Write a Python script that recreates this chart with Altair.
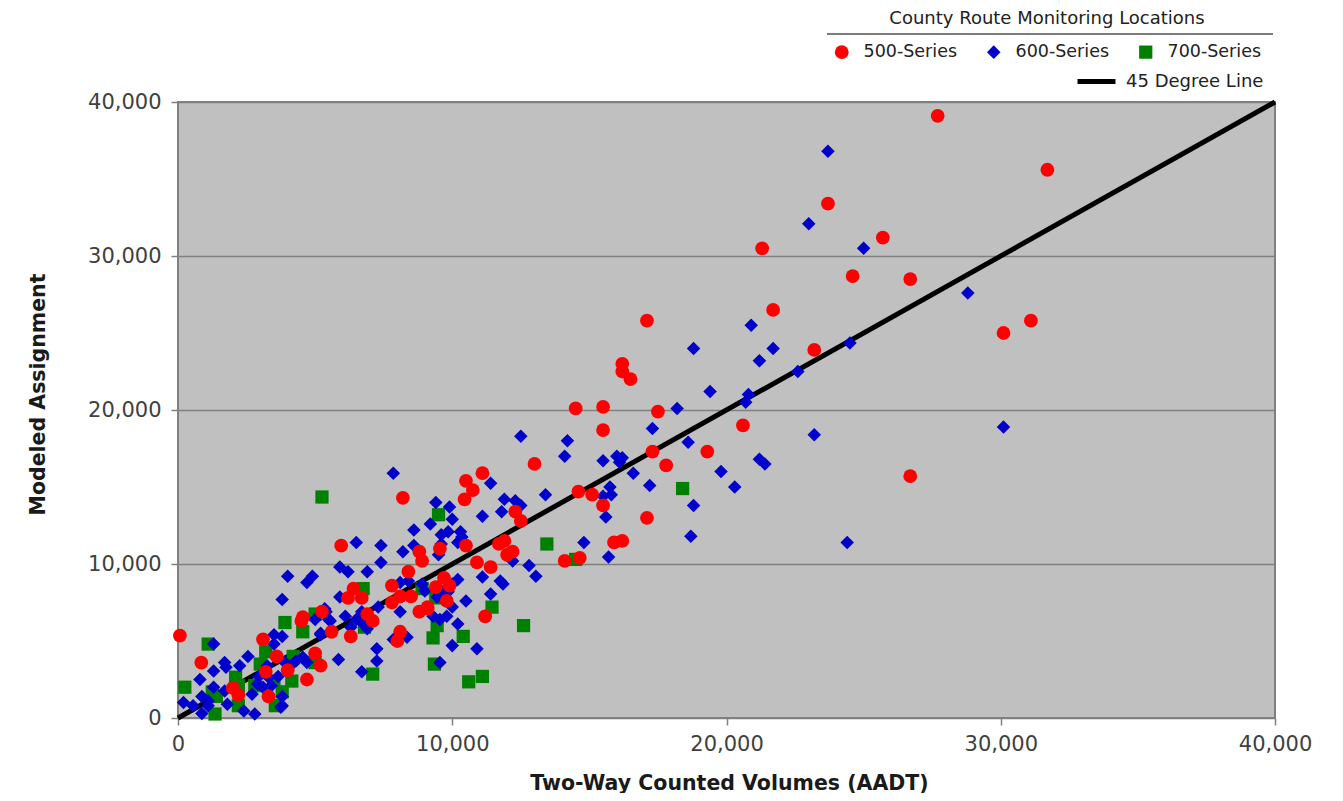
import altair as alt
import pandas as pd

# ---- data ----
red_x = [70, 850, 2000, 2200, 3100, 3600, 3200, 4000, 4700, 5000, 5200, 4500, 4550, 5250, 3300,
         5950, 8900, 8400, 7800, 6400, 6200, 6700, 5600, 6300, 6900, 7100, 7800, 8100, 8500, 8100,
         8000, 8800, 9100, 9400, 9700, 9900, 9800, 12500, 11900, 11700, 12000, 12200, 10500, 9550,
         8800, 10900, 11400, 9100, 11200, 8200, 10500, 10750, 10450, 11100, 13000, 12300, 16500,
         14500, 15500, 17500, 15500, 17300, 17800, 19300, 14600, 15100, 15500, 17100, 15900, 16200,
         14100, 14650, 20600, 21300, 17100, 16200, 16200, 21700, 23200, 27700, 23700, 31700, 25700,
         24600, 26700, 30100, 31100, 26700]
red_y = [5350, 3600, 1950, 1500, 5100, 4000, 3000, 3100, 2500, 4200, 3400, 6300, 6550, 6900, 1400,
         11200, 10200, 9500, 8600, 8400, 7800, 7800, 5600, 5300, 6750, 6300, 7500, 7900, 7900, 5600,
         5000, 6900, 7100, 8500, 9100, 8600, 7600, 12800, 11500, 11300, 10600, 10800, 11200, 11000,
         10800, 10100, 9800, 7200, 6600, 14300, 15400, 14800, 14200, 15900, 16500, 13400, 22000,
         20100, 20200, 19900, 18700, 17300, 16400, 17300, 14700, 14500, 13800, 13000, 11400, 11500,
         10200, 10400, 19000, 30500, 25800, 23000, 22500, 26500, 23900, 39100, 33400, 35600, 31200,
         28700, 28500, 25000, 25800, 15700]

blue_x = [4000, 4900, 4700, 3800, 1300, 3500, 3800, 3500, 5200, 1700, 1750, 1300, 2250, 2550, 800,
          1300, 1700, 200, 550, 870, 1100, 1100, 870, 1800, 2400, 2800, 2700, 2950, 2900, 3300, 3400,
          3650, 3900, 4100, 3800, 3800, 3750, 3100, 4300, 4700, 4550, 3250, 5000,
          5900, 6200, 6900, 7400, 8100, 8400, 8900, 9000, 9450, 9600, 9450, 9850, 10000, 10200, 10500,
          5900, 6100, 5550, 5400, 6500, 6750, 6900, 7300, 8100, 6300, 5200, 7850, 8350, 9300, 9550,
          9800, 10000, 10200, 10000, 7250, 7250, 5850, 6700, 9550,
          8600, 9200, 9600, 9850, 10300, 10350, 7400, 8200, 8600, 9500, 9600, 10200, 11750, 11850,
          11400, 11100, 12800, 13050, 12200, 10900,
          7850, 12500, 11400, 13400, 9400, 9900, 10000, 11100, 11800, 11900, 12300, 12500,
          19400, 18200, 14200, 14100, 15500, 16000, 16200, 16100, 17300, 18600, 16600, 15750, 15500,
          15800, 17200, 15600, 18800, 19800, 20300, 18700, 14800, 15700,
          20900, 18800, 21700, 21200, 22600, 20800, 28800, 24500, 23200, 30100, 24400, 23700, 23000,
          25000, 21200, 21400, 20700, 6500, 6700, 5350, 5500]
blue_y = [9200, 9200, 8800, 7700, 4800, 5400, 5300, 4800, 5400, 3600, 3300, 3050, 3400, 4000, 2500,
          2000, 1750, 1000, 800, 1400, 1100, 800, 300, 900, 450, 260, 1550, 2700, 2200, 2650, 2100,
          2700, 3600, 3400, 1400, 800, 700, 2000, 3700, 3600, 3950, 3400, 6400,
          9800, 9500, 9500, 10100, 8800, 8900, 8700, 8250, 7850, 8250, 8500, 8200, 8700, 9000, 7600,
          7850, 6600, 6300, 6900, 6400, 6100, 5800, 7200, 6900, 5900, 5500, 5100, 5250, 6600, 6400,
          6600, 7200, 6100, 4700, 4500, 3700, 3800, 3000, 3600,
          12200, 12600, 11900, 12100, 12100, 11750, 11200, 10800, 11200, 10600, 11300, 11400, 8900,
          8700, 8050, 9150, 9900, 9200, 10200, 4500,
          15900, 18300, 15250, 14500, 14000, 13700, 12900, 13100, 13400, 14200, 14100, 13800,
          21200, 20100, 18000, 17000, 16700, 17000, 16900, 16600, 18800, 17900, 15900, 15000, 14400,
          14500, 15100, 13050, 13800, 16000, 15000, 11800, 11400, 10450,
          25500, 24000, 24000, 23200, 22500, 21000, 27600, 24350, 18400, 18900, 11400, 36800, 32100,
          30500, 16800, 16500, 20500, 11400, 6900, 7100, 6400]

green_x = [5250, 3900, 4550, 1100, 3200, 3000, 250, 2100, 2200, 1250, 1400, 1350, 2200, 2800, 3500,
           3800, 4150, 3550, 5000, 4200, 5000, 6750, 8900, 9400, 9450, 9300, 10400, 9350, 7100, 10600,
           6800, 13450, 11450, 12600, 11100, 9500, 18400, 14500]
green_y = [14350, 6200, 5600, 4800, 4300, 3500, 2000, 2650, 2100, 1700, 1400, 260, 800, 2100, 2350,
           1700, 2400, 800, 3600, 4000, 6750, 8400, 8400, 7800, 6000, 5200, 5300, 3500, 2850, 2350,
           5900, 11300, 7200, 6000, 2700, 13200, 14900, 10300]

series_names = ["500-Series", "600-Series", "700-Series"]
series_colors = ["#FF0000", "#0000CC", "#008000"]
series_shapes = ["circle", "diamond", "square"]
series_sizes = [190, 175, 140]

line_x = [0, 40000]
line_y = [0, 40000]
line_name = "45 Degree Line"

axis_ticks = [0, 10000, 20000, 30000, 40000]

# ---- tables ----
pts = pd.concat([
    pd.DataFrame({"x": green_x, "y": green_y, "series": series_names[2]}),
    pd.DataFrame({"x": blue_x, "y": blue_y, "series": series_names[1]}),
    pd.DataFrame({"x": red_x, "y": red_y, "series": series_names[0]}),
], ignore_index=True)
line_df = pd.DataFrame({"x": line_x, "y": line_y, "lbl": line_name})

FONT = "DejaVu Sans"
W, H = 1097, 616

xscale = alt.Scale(domain=[0, 40000], nice=False, zero=True)
yscale = alt.Scale(domain=[0, 40000], nice=False, zero=True)

xaxis = alt.Axis(values=axis_ticks, format=",d", grid=False, domain=False,
                 tickColor="#808080", tickSize=7, tickWidth=1.5,
                 labelFont=FONT, labelFontSize=21, labelColor="#404040",
                 labelPadding=8, labelFlush=False,
                 title="Two-Way Counted Volumes (AADT)", titleFont=FONT,
                 titleFontSize=20.5, titleFontWeight="bold", titleColor="#1a1a1a",
                 titleX=551, titleY=65, titleBaseline="middle", titleAlign="center")
yaxis = alt.Axis(values=axis_ticks, format=",d", grid=True, gridColor="#808080",
                 gridWidth=1.5, domain=False,
                 tickColor="#808080", tickSize=7, tickWidth=1.5,
                 labelFont=FONT, labelFontSize=21, labelColor="#404040",
                 labelPadding=10, labelFlush=False,
                 title="Modeled Assignment", titleFont=FONT,
                 titleFontSize=20.5, titleFontWeight="bold", titleColor="#1a1a1a",
                 titleAngle=-90, titleX=-140, titleY=292,
                 titleBaseline="middle", titleAlign="center")

pt_legend = alt.Legend(title="County Route Monitoring Locations", orient="none",
                       legendX=655, legendY=-92, direction="horizontal", columns=3,
                       columnPadding=27, titleAnchor="middle", titleAlign="center",
                       titleFont=FONT, titleFontSize=18, titleFontWeight="normal",
                       titleColor="#222222", titlePadding=15, titleLimit=600,
                       labelFont=FONT, labelFontSize=17.5, labelColor="#222222",
                       labelOffset=13, symbolSize=170, padding=0)

line_layer = alt.Chart(line_df).mark_line(strokeWidth=5, strokeCap="butt").encode(
    x=alt.X("x:Q", scale=xscale, axis=xaxis),
    y=alt.Y("y:Q", scale=yscale, axis=yaxis),
    stroke=alt.Stroke("lbl:N", scale=alt.Scale(domain=[line_name], range=["#000000"]),
                      legend=alt.Legend(title=None, orient="none", legendX=897, legendY=-42,
                                        symbolType="stroke", symbolSize=1444,
                                        symbolStrokeWidth=5, labelFont=FONT,
                                        labelFontSize=18, labelColor="#222222",
                                        labelOffset=8, padding=0)),
)

point_layer = alt.Chart(pts).mark_point(filled=True, opacity=1).encode(
    x=alt.X("x:Q", scale=xscale),
    y=alt.Y("y:Q", scale=yscale),
    color=alt.Color("series:N", scale=alt.Scale(domain=series_names, range=series_colors),
                    legend=pt_legend),
    shape=alt.Shape("series:N", scale=alt.Scale(domain=series_names, range=series_shapes),
                    legend=pt_legend),
    size=alt.Size("series:N", scale=alt.Scale(domain=series_names, range=series_sizes),
                  legend=None),
)

underline = alt.Chart(pd.DataFrame({"k": [0]})).mark_rule(color="#505050", strokeWidth=1.5).encode(
    x=alt.value(649), x2=alt.value(1095), y=alt.value(-68)
)

chart = alt.layer(line_layer, point_layer, underline).properties(
    width=W, height=H,
    autosize=alt.AutoSizeParams(type="none"),
    padding={"left": 170, "top": 94, "right": 45, "bottom": 75},
    background="white",
).configure_view(fill="#C0C0C0", stroke="#808080", strokeWidth=2)

chart.save("out.html", embed_options={"renderer": "svg", "actions": False})
